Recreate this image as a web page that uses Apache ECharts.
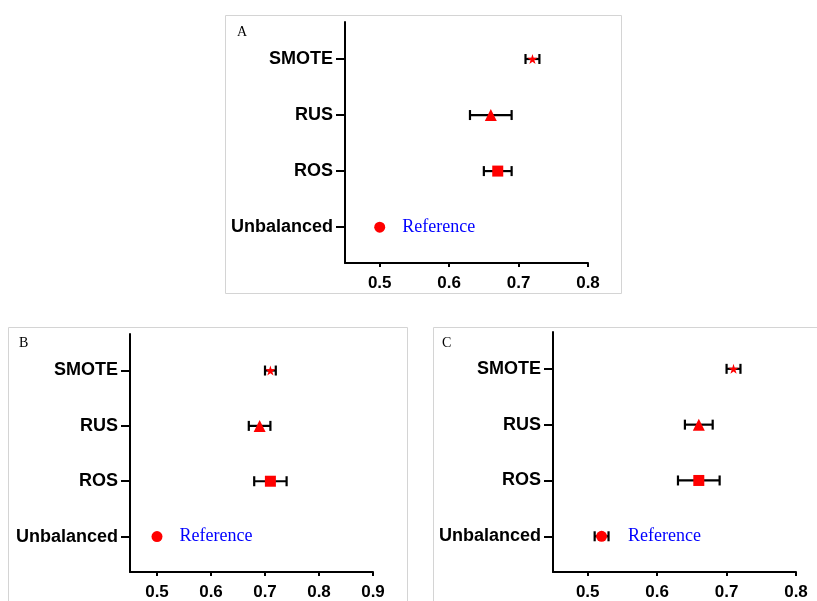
<!DOCTYPE html>
<html>
<head>
<meta charset="utf-8">
<script src="https://cdn.jsdelivr.net/npm/echarts@6/dist/echarts.min.js"></script>
<style>
html,body{margin:0;padding:0;background:#fff;}
#main{width:817px;height:601px;}
</style>
</head>
<body>
<div id="main"></div>
<script>
// ---- data ----
const categories = ['Unbalanced', 'ROS', 'RUS', 'SMOTE'];
const panelNames = ['A', 'B', 'C'];

const meanA = [0.50, 0.67, 0.66, 0.72];
const lowA  = [null, 0.65, 0.63, 0.71];
const highA = [null, 0.69, 0.69, 0.73];

const meanB = [0.50, 0.71, 0.69, 0.71];
const lowB  = [null, 0.68, 0.67, 0.70];
const highB = [null, 0.74, 0.71, 0.72];

const meanC = [0.52, 0.66, 0.66, 0.71];
const lowC  = [0.51, 0.63, 0.64, 0.70];
const highC = [0.53, 0.69, 0.68, 0.72];

const xTicksA = [0.5, 0.6, 0.7, 0.8];
const xTicksB = [0.5, 0.6, 0.7, 0.8, 0.9];
const xTicksC = [0.5, 0.6, 0.7, 0.8];
const xMaxA = 0.8, xMaxB = 0.9, xMaxC = 0.8;
const referenceText = 'Reference';

// ---- styling / layout ----
const STAR = 'path://M50,0 L61.2,34.5 L97.6,34.5 L68.2,55.9 L79.4,90.5 L50,69.1 L20.6,90.5 L31.8,55.9 L2.4,34.5 L38.8,34.5 Z';
const symbols = ['circle', 'rect', 'triangle', STAR];
const symbolSizes = [11, 11, 12, 10];
const grids = [
  {left: 345, top: 22, width: 243, height: 241},
  {left: 130, top: 334, width: 243, height: 244},
  {left: 553, top: 332, width: 243, height: 241}
];
const panels = [
  {mean: meanA, low: lowA, high: highA, ticks: xTicksA, max: xMaxA, refDist: 17},
  {mean: meanB, low: lowB, high: highB, ticks: xTicksB, max: xMaxB, refDist: 17},
  {mean: meanC, low: lowC, high: highC, ticks: xTicksC, max: xMaxC, refDist: 21}
];
const boxes = [
  {x: 225, y: 15, w: 396, h: 278},
  {x: 8, y: 327, w: 399, h: 290},
  {x: 433, y: 327, w: 400, h: 290}
];
const letterPos = [[237, 25], [19, 336], [442, 336]];

const chart = echarts.init(document.getElementById('main'), null, {renderer: 'canvas'});

const xAxes = [], yAxes = [], series = [];
panels.forEach((p, i) => {
  xAxes.push({
    type: 'value', gridIndex: i, min: 0.45, max: p.max,
    axisLine: {show: true, onZero: false, lineStyle: {color: '#000', width: 2}},
    axisTick: {show: true, customValues: p.ticks, length: 4, lineStyle: {color: '#000', width: 2}},
    axisLabel: {show: true, customValues: p.ticks, margin: 12,
      fontFamily: 'Liberation Sans, Arial, sans-serif', fontWeight: 'bold', fontSize: 17, color: '#000',
      formatter: v => v.toFixed(1)},
    splitLine: {show: false}
  });
  yAxes.push({
    type: 'value', gridIndex: i, min: -0.64, max: 3.66,
    axisLine: {show: true, onZero: false, lineStyle: {color: '#000', width: 2}},
    axisTick: {show: true, customValues: [0, 1, 2, 3], length: 9, lineStyle: {color: '#000', width: 2}},
    axisLabel: {show: true, customValues: [0, 1, 2, 3], margin: 12,
      fontFamily: 'Liberation Sans, Arial, sans-serif', fontWeight: 'bold', fontSize: 18, color: '#000',
      formatter: v => categories[Math.round(v)]},
    splitLine: {show: false}
  });
  const errData = [];
  p.mean.forEach((m, k) => {
    if (p.low[k] != null) errData.push([p.low[k], p.high[k], k]);
  });
  series.push({
    type: 'custom', xAxisIndex: i, yAxisIndex: i, z: 2, silent: true,
    data: errData,
    encode: {x: [0, 1], y: 2},
    renderItem: (params, api) => {
      const a = api.coord([api.value(0), api.value(2)]);
      const b = api.coord([api.value(1), api.value(2)]);
      const cap = 5;
      const st = {stroke: '#000', lineWidth: 2.2};
      return {type: 'group', children: [
        {type: 'line', shape: {x1: a[0], y1: a[1], x2: b[0], y2: b[1]}, style: st},
        {type: 'line', shape: {x1: a[0], y1: a[1] - cap, x2: a[0], y2: a[1] + cap}, style: st},
        {type: 'line', shape: {x1: b[0], y1: b[1] - cap, x2: b[0], y2: b[1] + cap}, style: st}
      ]};
    }
  });
  series.push({
    type: 'scatter', xAxisIndex: i, yAxisIndex: i, z: 3, silent: true,
    data: p.mean.map((m, k) => {
      const d = {value: [m, k], symbol: symbols[k], symbolSize: symbolSizes[k]};
      if (k === 0) {
        d.label = {show: true, position: 'right', distance: p.refDist, formatter: referenceText,
          color: '#0000ff', fontFamily: 'Liberation Serif, Times New Roman, serif', fontSize: 18};
      }
      return d;
    }),
    itemStyle: {color: '#ff0000', opacity: 1}
  });
});

const graphics = [];
boxes.forEach(b => {
  graphics.push({type: 'rect', z: -1, shape: {x: b.x + 0.5, y: b.y + 0.5, width: b.w, height: b.h},
    style: {fill: 'none', stroke: '#d4d4d4', lineWidth: 1}});
});
panelNames.forEach((n, i) => {
  graphics.push({type: 'text', x: letterPos[i][0], y: letterPos[i][1],
    style: {text: n, fill: '#000', font: '14px "Liberation Serif", "Times New Roman", serif'}});
});

chart.setOption({
  animation: false,
  backgroundColor: '#fff',
  grid: grids,
  xAxis: xAxes,
  yAxis: yAxes,
  series: series,
  graphic: graphics
});
</script>
</body>
</html>
